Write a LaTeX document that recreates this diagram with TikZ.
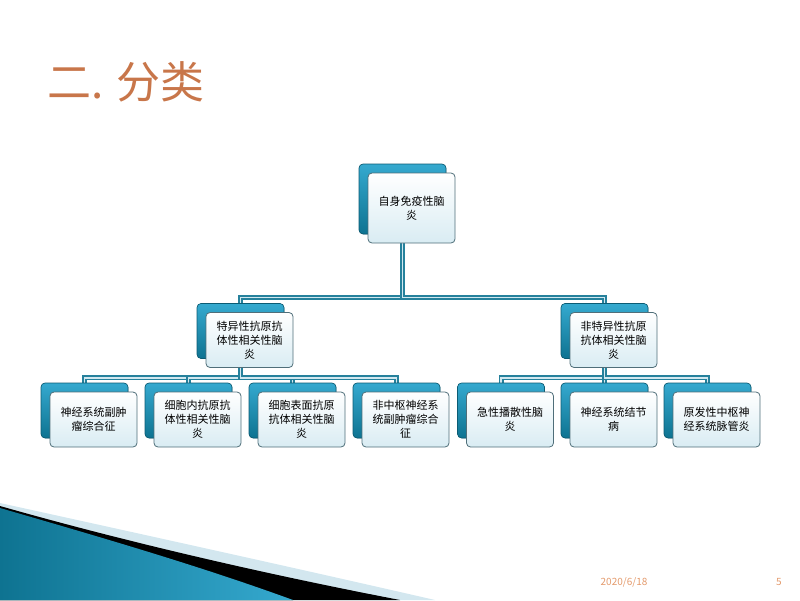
\documentclass[tikz,border=0pt]{standalone}
\usepackage{fontspec}
\setmainfont{Noto Sans CJK SC}
\usetikzlibrary{shadows,backgrounds}

\definecolor{tealdark}{HTML}{0E7391}
\definecolor{teallight}{HTML}{35A9CF}
\definecolor{boxedge}{HTML}{4F6E79}
\definecolor{boxfill}{HTML}{D9ECF3}
\definecolor{linefill}{HTML}{D2E8F0}
\definecolor{titlecol}{HTML}{C8764A}
\definecolor{datecol}{HTML}{E39A6C}
\definecolor{swooshlight}{HTML}{D3E7EF}

\tikzset{
  item/.style={draw=boxedge, line width=0.8pt, rounded corners=4pt,
    top color=white, bottom color=boxfill,
    minimum width=87pt, minimum height=55pt, align=center, inner sep=2pt,
    font=\fontsize{11}{14}\selectfont,
    copy shadow={shadow xshift=-9pt, shadow yshift=9pt, draw=tealdark!80!black,
      line width=0.6pt, top color=teallight, bottom color=tealdark}},
  link/.style={draw=tealdark!90, line width=1.6pt, double=linefill, double distance=1.8pt}
}

\begin{document}
\begin{tikzpicture}[x=1pt,y=-1pt]
    \useasboundingbox (0,0) rectangle (800,600);

    \fill[swooshlight] (0,503) .. controls (150,536) and (300,569) .. (435,600) -- (0,600) -- cycle;
    \fill[black] (0,506) .. controls (130,543) and (270,575) .. (400,600) -- (0,600) -- cycle;
    \fill[left color=tealdark, right color=teallight] (0,508) .. controls (100,537) and (200,566) .. (293,600) -- (0,600) -- cycle;

    \node[anchor=west, text=titlecol, font=\fontsize{44}{44}\selectfont] (title) at (44,82) {二. 分类};

    \node[item, minimum height=70pt] (root) at (411.5,208) {自身免疫性脑\\炎};

    \node[item] (sa) at (249.5,340) {特异性抗原抗\\体性相关性脑\\炎};
    \node[item] (sb) at (613.5,340) {非特异性抗原\\抗体相关性脑\\炎};

    \node[item] (a1) at (93.5,419.5) {神经系统副肿\\瘤综合征};
    \node[item] (a2) at (197.5,419.5) {细胞内抗原抗\\体性相关性脑\\炎};
    \node[item] (a3) at (301.5,419.5) {细胞表面抗原\\抗体相关性脑\\炎};
    \node[item] (a4) at (405.5,419.5) {非中枢神经系\\统副肿瘤综合\\征};
    \node[item] (b1) at (510,419.5) {急性播散性脑\\炎};
    \node[item] (b2) at (613.5,419.5) {神经系统结节\\病};
    \node[item] (b3) at (716.5,419.5) {原发性中枢神\\经系统脉管炎};

    \begin{scope}[on background layer]
    \foreach \n in {sa,sb}
      \draw[link] ([xshift=-9pt]root.south) -- ++(0,54) -| ([shift={(-9pt,9pt)}]\n.north);
    \foreach \n in {a1,a2,a3,a4}
      \draw[link] ([xshift=-9pt]sa.south) -- ++(0,10) -| ([shift={(-9pt,9pt)}]\n.north);
    \foreach \n in {b1,b2,b3}
      \draw[link] ([xshift=-9pt]sb.south) -- ++(0,10) -| ([shift={(-9pt,9pt)}]\n.north);
    \end{scope}

    \node[text=datecol, font=\fontsize{10}{10}\selectfont] (date) at (624,582) {2020/6/18};
    \node[text=datecol, font=\fontsize{10}{10}\selectfont] (page) at (779,582) {5};
\end{tikzpicture}
\end{document}
